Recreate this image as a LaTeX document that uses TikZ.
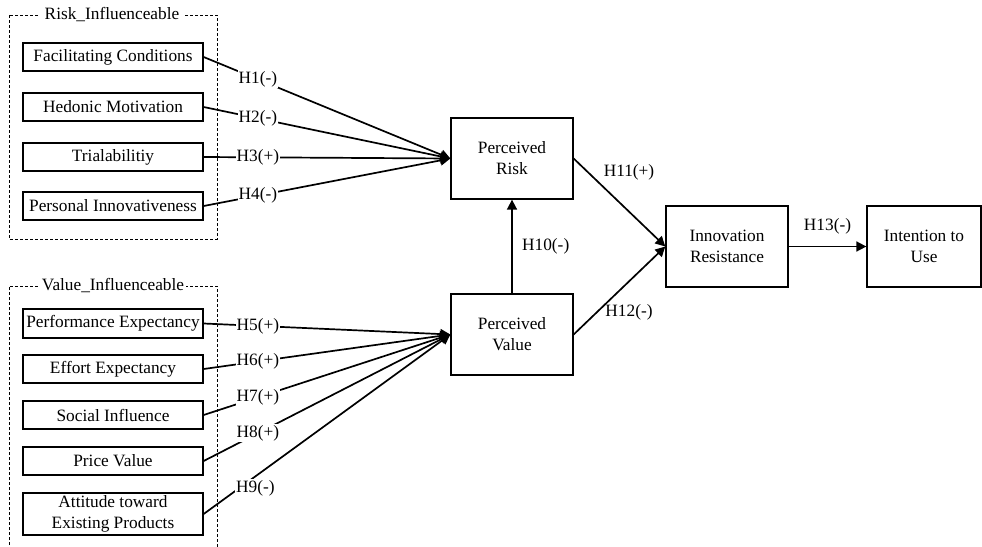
\documentclass[tikz,border=0pt]{standalone}
\usepackage{fontspec}
\setmainfont{Liberation Serif}
\usetikzlibrary{arrows.meta}
\begin{document}
\begin{tikzpicture}[x=1pt,y=-1pt,
  every node/.style={font=\fontsize{17.3}{21}\selectfont},
  itembox/.style={draw,line width=1.3pt,minimum width=180pt,minimum height=28pt,inner sep=0pt,align=center},
  bigbox/.style={draw,line width=1.3pt,minimum width=122pt,minimum height=81pt,inner sep=0pt,align=center},
  grp/.style={draw,line width=0.9pt,dash pattern=on 3pt off 2pt},
  grptitle/.style={fill=white,inner sep=2pt},
  link/.style={line width=1.7pt,-{Triangle[length=10pt,width=10pt]}},
  hlab/.style={fill=white,inner sep=1pt}
]
\useasboundingbox (0,0) rectangle (982,546);
% group frames
\draw[grp] (9,15) rectangle (217,239);
\node[grptitle,inner xsep=6pt] (rtitle) at (112,15) {Risk\_Influenceable};
\draw[grp] (9,550) -- (9,286) -- (217,286) -- (217,550);
\node[grptitle] (vtitle) at (113,286) {Value\_Influenceable};
% left boxes
\node[itembox] (fc) at (113,57) {Facilitating Conditions};
\node[itembox] (hm) at (113,107) {Hedonic Motivation};
\node[itembox] (tr) at (113,157) {Trialabilitiy};
\node[itembox] (pi) at (113,206) {Personal Innovativeness};
\node[itembox,minimum height=29pt] (pe) at (113,323.5) {Performance Expectancy};
\node[itembox] (ee) at (113,369) {Effort Expectancy};
\node[itembox] (si) at (113,415) {Social Influence};
\node[itembox] (pv) at (113,461) {Price Value};
\node[itembox,minimum height=42pt] (at) at (113,514) {Attitude toward\\Existing Products};
% main boxes
\node[bigbox] (risk) at (512,158.5) {Perceived\\Risk};
\node[bigbox] (val) at (512,334.5) {Perceived\\Value};
\node[bigbox] (ir) at (727,246.5) {Innovation\\Resistance};
\node[bigbox,minimum width=114pt] (iu) at (924,246.5) {Intention to\\Use};
% connectors to risk
\draw[link] (fc.east) -- node[hlab,pos=0.22] {H1(-)} (risk.west);
\draw[link] (hm.east) -- node[hlab,pos=0.22] {H2(-)} (risk.west);
\draw[link] (tr.east) -- node[hlab,pos=0.22] {H3(+)} (risk.west);
\draw[link] (pi.east) -- node[hlab,pos=0.22] {H4(-)} (risk.west);
% connectors to value
\draw[link] (pe.east) -- node[hlab,pos=0.22] {H5(+)} (val.west);
\draw[link] (ee.east) -- node[hlab,pos=0.22] {H6(+)} (val.west);
\draw[link] (si.east) -- node[hlab,pos=0.22] {H7(+)} (val.west);
\draw[link] (pv.east) -- node[hlab,pos=0.22] {H8(+)} (val.west);
\draw[link] (at.east) -- node[hlab,pos=0.21,yshift=-12pt] {H9(-)} (val.west);
% right part
\draw[link] (val.north) -- node[right=6pt] {H10(-)} (risk.south);
\draw[link] (risk.east) -- (ir.west);
\draw[link] (val.east) -- (ir.west);
\node (h11) at (629,172) {H11(+)};
\node (h12) at (629,312) {H12(-)};
\draw[link] (ir.east) -- node[above=8pt] {H13(-)} (iu.west);
\end{tikzpicture}
\end{document}
